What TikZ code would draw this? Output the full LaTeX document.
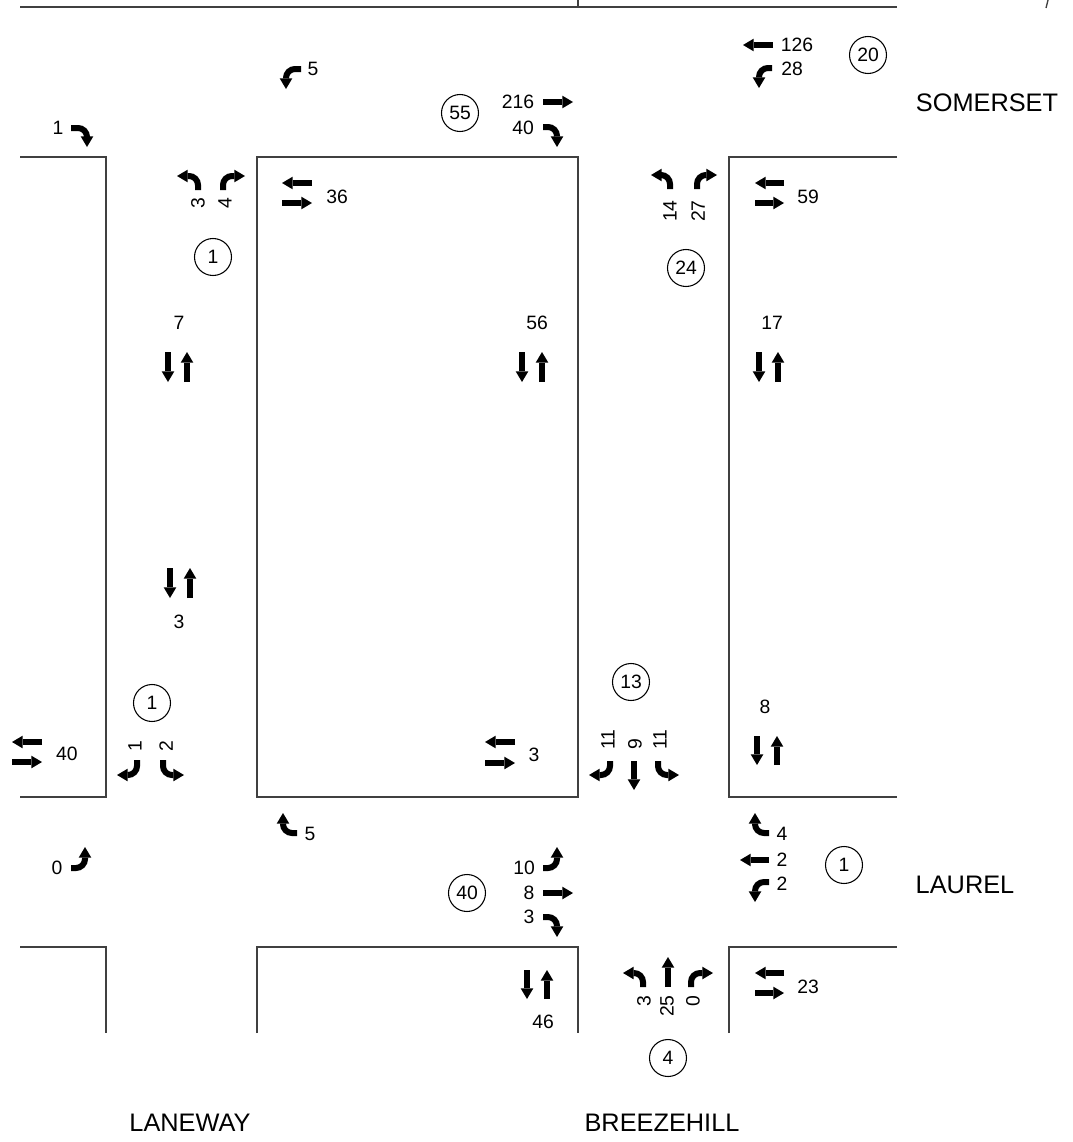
\documentclass[tikz,border=0pt]{standalone}
\usepackage{fontspec}
\setmainfont{Liberation Sans}
\usetikzlibrary{arrows.meta}
\begin{document}
\begin{tikzpicture}[x=0.75pt,y=-0.75pt,
  road/.style={line width=1pt, draw=black!75},
  arr/.style={line width=4.5pt, -{Triangle[width=9.5pt,length=8pt,line width=0pt]}},
  carr/.style={arr, rounded corners=6.75pt},
  num/.style={inner sep=0pt, font=\fontsize{14.5}{17}\selectfont},
  vnum/.style={num, rotate=90},
  ring/.style={circle, draw, line width=0.8pt, minimum size=27.75pt, inner sep=0pt, font=\fontsize{14.5}{17}\selectfont},
  street/.style={inner sep=0pt, font=\fontsize{19}{22}\selectfont}]
\useasboundingbox (0,0) rectangle (1073,1142);
% road edges
\draw[road] (20,7) -- (897,7);
\draw[road] (578,0) -- (578,7);
\draw[road] (1048,0) -- (1046,8);
\draw[road] (20,157) -- (106,157) -- (106,797) -- (20,797);
\draw[road] (257,157) rectangle (578,797);
\draw[road] (897,157) -- (729,157) -- (729,797) -- (897,797);
\draw[road] (20,947) -- (106,947) -- (106,1033);
\draw[road] (257,1033) -- (257,947) -- (578,947) -- (578,1033);
\draw[road] (729,1033) -- (729,947) -- (897,947);
% top-left intersection
\node[num] (tl1) at (58,128) {1};
\draw[carr] (71,128) -- (87,128) -- (87,147);
\node[num] (t5) at (313,69) {5};
\draw[carr] (301,69) -- (286,69) -- (286,89);
\node[vnum, anchor=east] (l3) at (198,197) {3};
\node[vnum, anchor=east] (l4) at (225,197) {4};
\draw[carr] (198,190) -- (198,176) -- (177,176);
\draw[carr] (223,190) -- (223,176) -- (245,176);
\draw[arr] (312,183) -- (282,183);
\draw[arr] (282,203) -- (312,203);
\node[num] (w36) at (337,197) {36};
\node[ring] (c1a) at (213,257) {1};
\node[num] (v7) at (179,323) {7};
\draw[arr] (168,352) -- (168,382);
\draw[arr] (187,382) -- (187,352);
\draw[arr] (170,568) -- (170,598);
\draw[arr] (190,598) -- (190,568);
\node[num] (v3) at (179,622) {3};
\node[ring] (c1b) at (152,703) {1};
\draw[arr] (42,742) -- (12,742);
\draw[arr] (12,762) -- (42,762);
\node[num] (w40) at (67,754) {40};
\node[vnum, anchor=west] (b1) at (135,752) {1};
\node[vnum, anchor=west] (b2) at (166,752) {2};
\draw[carr] (137,760) -- (137,775) -- (117,775);
\draw[carr] (163,760) -- (163,775) -- (184,775);
\draw[carr] (297,833) -- (283,833) -- (283,813);
\node[num] (b5) at (310,834) {5};
\node[num] (b0) at (57,868) {0};
\draw[carr] (71,868) -- (85,868) -- (85,847);
% top middle / right
\node[ring] (c55) at (460,113) {55};
\node[num] (t216) at (518,102) {216};
\draw[arr] (543,102) -- (573,102);
\node[num] (t40) at (523,128) {40};
\draw[carr] (543,127) -- (557,127) -- (557,147);
\node[num] (t126) at (797,45) {126};
\draw[arr] (773,45) -- (743,45);
\node[num] (t28) at (792,69) {28};
\draw[carr] (772,68) -- (759,68) -- (759,88);
\node[ring] (c20) at (868,55) {20};
\node[street] (som) at (987,103) {SOMERSET};
\node[vnum, anchor=east] (r14) at (670,200) {14};
\node[vnum, anchor=east] (r27) at (698,200) {27};
\draw[carr] (670,189) -- (670,175) -- (651,175);
\draw[carr] (697,189) -- (697,175) -- (717,175);
\draw[arr] (784,183) -- (755,183);
\draw[arr] (755,203) -- (784,203);
\node[num] (e59) at (808,197) {59};
\node[ring] (c24) at (686,268) {24};
\node[num] (v56) at (537,323) {56};
\draw[arr] (522,352) -- (522,382);
\draw[arr] (542,382) -- (542,352);
\node[num] (v17) at (772,323) {17};
\draw[arr] (759,352) -- (759,382);
\draw[arr] (778,382) -- (778,352);
% lower middle / right
\node[ring] (c13) at (631,682) {13};
\node[num] (v8) at (765,707) {8};
\draw[arr] (757,736) -- (757,765);
\draw[arr] (777,765) -- (777,736);
\draw[arr] (515,742) -- (485,742);
\draw[arr] (485,763) -- (515,763);
\node[num] (w3) at (534,755) {3};
\node[vnum, anchor=west] (s11a) at (608,750) {11};
\node[vnum, anchor=west] (s9) at (635,750) {9};
\node[vnum, anchor=west] (s11b) at (660,750) {11};
\draw[carr] (610,761) -- (610,775) -- (589,775);
\draw[arr] (634,761) -- (634,790);
\draw[carr] (658,761) -- (658,775) -- (679,775);
\node[num] (e4) at (782,834) {4};
\draw[carr] (769,833) -- (755,833) -- (755,813);
\node[num] (e2a) at (782,860) {2};
\draw[arr] (769,860) -- (740,860);
\node[num] (e2b) at (782,884) {2};
\draw[carr] (769,882) -- (755,882) -- (755,902);
\node[ring] (c1c) at (844,865) {1};
\node[street] (lau) at (965,885) {LAUREL};
\node[num] (w10) at (524,868) {10};
\draw[carr] (543,868) -- (557,868) -- (557,847);
\node[num] (w8) at (529,893) {8};
\draw[arr] (543,893) -- (573,893);
\node[num] (w3b) at (529,917) {3};
\draw[carr] (543,917) -- (557,917) -- (557,937);
\node[ring] (c40) at (467,893) {40};
\draw[arr] (527,970) -- (527,999);
\draw[arr] (547,999) -- (547,970);
\node[num] (v46) at (543,1022) {46};
\draw[carr] (643,987) -- (643,973) -- (623,973);
\draw[arr] (668,987) -- (668,957);
\draw[carr] (691,987) -- (691,973) -- (713,973);
\node[vnum, anchor=east] (n3) at (644,995) {3};
\node[vnum, anchor=east] (n25) at (667,995) {25};
\node[vnum, anchor=east] (n0) at (693,995) {0};
\draw[arr] (784,973) -- (755,973);
\draw[arr] (755,993) -- (784,993);
\node[num] (e23) at (808,987) {23};
\node[ring] (c4) at (668,1058) {4};
\node[street] (lane) at (190,1123) {LANEWAY};
\node[street] (bree) at (662,1123) {BREEZEHILL};
\end{tikzpicture}
\end{document}
